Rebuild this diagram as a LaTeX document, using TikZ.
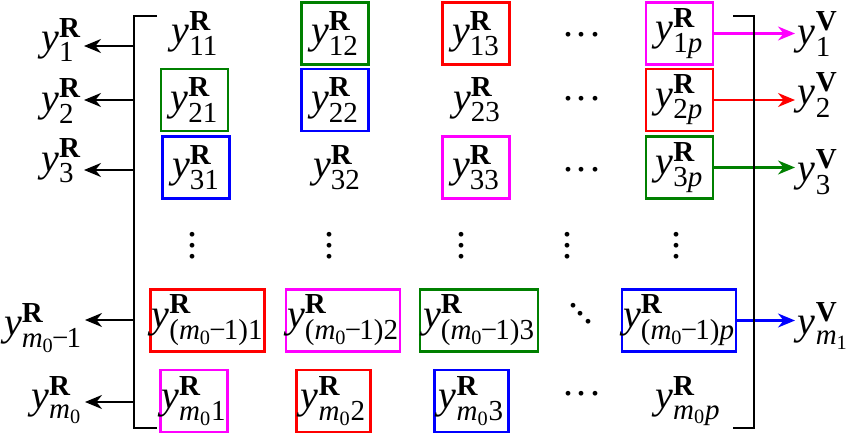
\documentclass[tikz,border=0pt]{standalone}
\usepackage{amsmath}
\usepackage{fontspec}
\setmainfont{Liberation Serif}
\usepackage{tikz}
\usetikzlibrary{arrows.meta,positioning}
\definecolor{boxgreen}{RGB}{0,128,0}
\definecolor{boxblue}{RGB}{0,0,255}
\definecolor{boxred}{RGB}{255,0,0}
\definecolor{boxmagenta}{RGB}{255,0,255}
\DeclareMathSizes{22.8}{22.8}{16.5}{12.5}
\newcommand{\yR}[1]{\ensuremath{\text{\itshape y}^{\text{\bfseries R}}_{\text{#1}}}}
\newcommand{\yV}[1]{\ensuremath{\text{\itshape y}^{\text{\bfseries V}}_{\text{#1}}}}
\newcommand{\mz}{\textit{m}$_{\text{0}}$}
\newcommand{\mzl}{\mz\kern-0.06em−\kern-0.06em1}
\newcommand{\hdotsb}{\raisebox{0.22em}{.\kern2pt.\kern2pt.}}
\newcommand{\vdotsb}{\vbox{\baselineskip6.2pt\lineskiplimit0pt\hbox{.}\hbox{.}\hbox{.}}}
\newcommand{\ddotsb}{\raisebox{9pt}{.}\kern-1.2pt\raisebox{4.5pt}{.}\kern-1.2pt\raisebox{0pt}{.}}
\tikzset{
  cell/.style={rectangle,inner sep=0pt,minimum width=1.34cm,minimum height=1.24cm,line width=1.3pt},
  widecell/.style={cell,minimum width=2.28cm},
  mcell/.style={cell,minimum width=1.48cm},
  lab/.style={inner sep=1.5pt},
  brk/.style={line width=1.2pt},
  arr/.style={-{Stealth[length=0.34cm,width=0.28cm]},line width=1.2pt}
}
\begin{document}
\begin{tikzpicture}[x=0.02cm,y=-0.02cm,font=\fontsize{22.8}{27}\selectfont]
  \useasboundingbox (0,0) rectangle (850,436);
  % row 1
  \node (c11) at (195,33.5) {\yR{11}};
  \node[cell,draw=boxgreen] (c12) at (335,33.5) {\yR{12}};
  \node[cell,draw=boxred] (c13) at (476,33.5) {\yR{13}};
  \node (d1) at (582,39) {\hdotsb};
  \node[cell,draw=boxmagenta] (c1p) at (679.5,33.5) {\yR{1\textit{p}}};
  % row 2
  \node[cell,draw=boxgreen] (c21) at (194.5,100) {\yR{21}};
  \node[cell,draw=boxblue] (c22) at (335,100) {\yR{22}};
  \node (c23) at (477,100) {\yR{23}};
  \node (d2) at (582,103) {\hdotsb};
  \node[cell,draw=boxred] (c2p) at (679.5,100) {\yR{2\textit{p}}};
  % row 3
  \node[cell,draw=boxblue] (c31) at (196,167.5) {\yR{31}};
  \node (c32) at (337,167.5) {\yR{32}};
  \node[cell,draw=boxmagenta] (c33) at (476,167.5) {\yR{33}};
  \node (d3) at (582,174) {\hdotsb};
  \node[cell,draw=boxgreen] (c3p) at (679.5,167.5) {\yR{3\textit{p}}};
  % vertical dots
  \foreach \x/\n in {193/v1,330/v2,462/v3,568/v4,677/v5}
    \node (\n) at (\x,246) {\vdotsb};
  % row m0-1
  \node[widecell,draw=boxred] (c51) at (207.5,320.5) {\yR{(\mzl)1}};
  \node[widecell,draw=boxmagenta] (c52) at (343,320.5) {\yR{(\mzl)2}};
  \node[widecell,draw=boxgreen,minimum width=2.36cm] (c53) at (479,320.5) {\yR{(\mzl)3}};
  \node (d5) at (581,314) {\ddotsb};
  \node[widecell,draw=boxblue] (c5p) at (679,320.5) {\yR{(\mzl)\textit{p}}};
  % row m0
  \node[cell,draw=boxmagenta] (c61) at (194,401) {\yR{\mz 1}};
  \node[mcell,draw=boxred] (c62) at (333.5,401) {\yR{\mz 2}};
  \node[mcell,draw=boxblue] (c63) at (471.5,401) {\yR{\mz 3}};
  \node (d6) at (582,398) {\hdotsb};
  \node (c6p) at (688,401) {\yR{\mz\textit{p}}};

  % left outputs
  \node[lab,anchor=east] (l1) at (84,40) {\yR{1}};
  \node[lab,anchor=east] (l2) at (84,101) {\yR{2}};
  \node[lab,anchor=east] (l3) at (84,161) {\yR{3}};
  \node[lab,anchor=east] (l5) at (85,328) {\yR{\mzl}};
  \node[lab,anchor=east] (l6) at (85,400) {\yR{\mz}};
  \coordinate (bl1) at (134,46);
  \coordinate (bl2) at (134,100);
  \coordinate (bl3) at (134,170);
  \coordinate (bl5) at (134,320);
  \coordinate (bl6) at (134,402);
  \foreach \i in {1,2,3,5,6}
    \draw[arr] (bl\i) -- (bl\i -| l\i.east);

  % right outputs
  \node[lab,anchor=west] (r1) at (795,34) {\yV{1}};
  \node[lab,anchor=west] (r2) at (795,95) {\yV{2}};
  \node[lab,anchor=west] (r3) at (795,172) {\yV{3}};
  \node[lab,anchor=west] (r5) at (795,326) {\yV{\textit{m}$_{\text{1}}$}};
  \draw[arr,boxmagenta] (c1p.east) -- (c1p.east -| r1.west);
  \draw[arr,boxred] (c2p.east) -- (c2p.east -| r2.west);
  \draw[arr,boxgreen] (c3p.east) -- (c3p.east -| r3.west);
  \draw[arr,boxblue] (c5p.east) -- (c5p.east -| r5.west);

  % brackets
  \draw[brk] (157,16) -- (134,16) -- (134,428) -- (157,428);
  \draw[brk] (733,16) -- (754,16) -- (754,428) -- (733,428);
\end{tikzpicture}
\end{document}
